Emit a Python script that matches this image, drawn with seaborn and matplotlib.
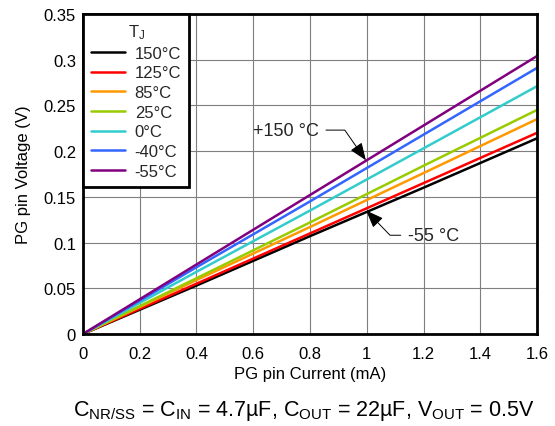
import numpy as np
import pandas as pd
import matplotlib
matplotlib.use('Agg')
import matplotlib.pyplot as plt
from matplotlib.ticker import FuncFormatter
import seaborn as sns

# PG pin current (mA)
current_ma = [0.0, 0.4, 0.8, 1.2, 1.6]

# PG pin voltage (V) per junction temperature
temps = ['150°C', '125°C', '85°C', '25°C', '0°C', '-40°C', '-55°C']
v_150 = [0.0, 0.053, 0.107, 0.160, 0.214]
v_125 = [0.0, 0.055, 0.110, 0.165, 0.220]
v_85 = [0.0, 0.059, 0.117, 0.176, 0.235]
v_25 = [0.0, 0.061, 0.122, 0.184, 0.245]
v_0 = [0.0, 0.068, 0.135, 0.203, 0.271]
v_m40 = [0.0, 0.073, 0.145, 0.218, 0.291]
v_m55 = [0.0, 0.076, 0.152, 0.228, 0.304]

colors = ['#000000', '#ff0000', '#ff9900', '#99cc00', '#33cccc', '#3366ff', '#800080']

x_ticks = [0, 0.2, 0.4, 0.6, 0.8, 1.0, 1.2, 1.4, 1.6]
y_ticks = [0, 0.05, 0.1, 0.15, 0.2, 0.25, 0.3, 0.35]

series = [v_150, v_125, v_85, v_25, v_0, v_m40, v_m55]
df = pd.concat([
    pd.DataFrame({'current': current_ma, 'voltage': vals, 'temp': t})
    for t, vals in zip(temps, series)
], ignore_index=True)

sns.set_theme(style='white')
plt.rcParams['font.family'] = ['Liberation Sans', 'DejaVu Sans']
plt.rcParams['mathtext.fontset'] = 'custom'
plt.rcParams['mathtext.rm'] = 'Liberation Sans'
plt.rcParams['mathtext.it'] = 'Liberation Sans'

fig = plt.figure(figsize=(5.55, 4.27), dpi=100)
ax = fig.add_axes([0.1495, 0.2155, 0.8181, 0.7494])

sns.lineplot(data=df, x='current', y='voltage', hue='temp', hue_order=temps,
             palette=colors, linewidth=1.8, ax=ax)

ax.set_xlim(0, 1.6)
ax.set_ylim(0, 0.35)
ax.set_xticks(x_ticks)
ax.set_yticks(y_ticks)
fmt = FuncFormatter(lambda v, p: f'{v:g}')
ax.xaxis.set_major_formatter(fmt)
ax.yaxis.set_major_formatter(fmt)
ax.tick_params(length=0, labelsize=12, colors='black')
ax.tick_params(axis='x', pad=9)
ax.tick_params(axis='y', pad=5)
ax.grid(True, color='#7f7f7f', linewidth=0.8)
for s in ax.spines.values():
    s.set_color('black')
    s.set_linewidth(2)

ax.set_xlabel('PG pin Current (mA)', fontsize=12, color='black', labelpad=3)
ax.set_ylabel('PG pin Voltage (V)', fontsize=12, color='black', labelpad=9)

leg = ax.legend(title='T$_J$', loc='upper left', bbox_to_anchor=(0, 1),
                borderaxespad=0, fontsize=12, title_fontsize=12,
                handlelength=2.0, handletextpad=0.6, labelspacing=0.28,
                borderpad=0.5, fancybox=False, framealpha=1)
leg.get_frame().set_edgecolor('black')
leg.get_frame().set_linewidth(2)

arrow = dict(arrowstyle='-|>,head_length=0.9,head_width=0.35', color='black',
             lw=0.7, mutation_scale=12, shrinkA=3, shrinkB=0)
ax.annotate('+150 °C', xy=(0.997, 0.190), xytext=(0.83, 0.223),
            ha='right', va='center', fontsize=13,
            arrowprops=dict(arrow, connectionstyle='angle,angleA=0,angleB=-55,rad=0'))
ax.annotate('-55 °C', xy=(0.998, 0.135), xytext=(1.146, 0.108),
            ha='left', va='center', fontsize=13,
            arrowprops=dict(arrow, connectionstyle='angle,angleA=180,angleB=-46,rad=0'))

fig.text(0.548, 0.038,
         r'C$_{\mathrm{NR/SS}}$ = C$_{\mathrm{IN}}$ = 4.7µF, C$_{\mathrm{OUT}}$ = 22µF, '
         r'V$_{\mathrm{OUT}}$ = 0.5V',
         ha='center', va='center', fontsize=15.5, color='black')

fig.savefig('out.png', dpi=100)
